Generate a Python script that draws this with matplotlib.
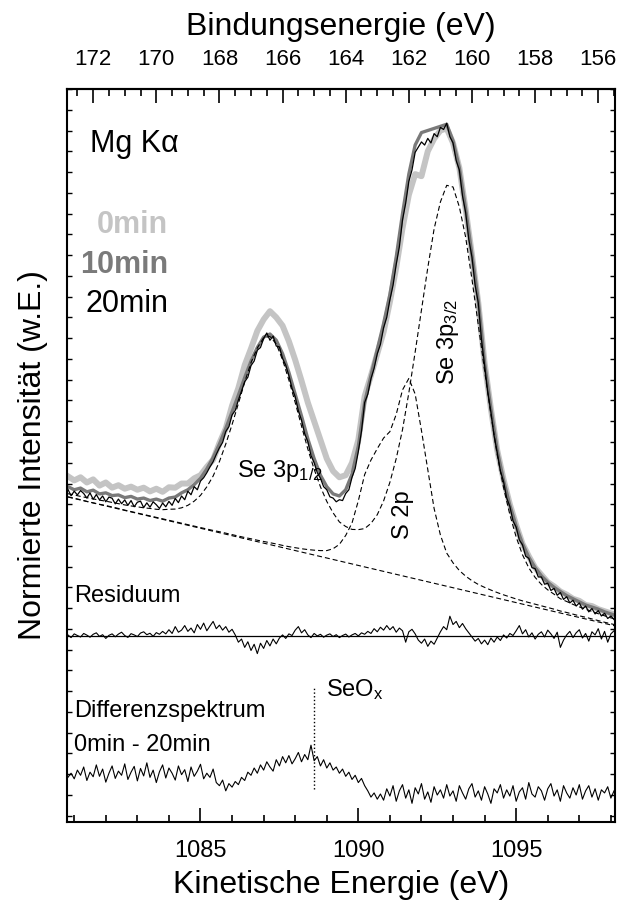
import numpy as np
import matplotlib
matplotlib.use("Agg")
import matplotlib.pyplot as plt
from matplotlib.ticker import MultipleLocator, FixedLocator

plt.rcParams['font.family'] = ['Liberation Sans', 'DejaVu Sans']
plt.rcParams['mathtext.default'] = 'regular'

# Mg K alpha: binding energy = h_nu - kinetic energy
h_nu = 1253.6

# tick values
ke_ticks = [1085, 1090, 1095]
be_ticks = [172, 170, 168, 166, 164, 162, 160, 158, 156]

# kinetic energy grids (eV)
ke_fine = np.round(np.arange(1080.8, 1098.15, 0.1), 1)   # 174 points
ke_fit = np.round(np.arange(1080.8, 1098.25, 0.2), 1)    # 88 points

# measured spectrum after 20 min (black)
spec_20 = [
    15.72, 15.41, 15.63, 15.45, 15.66, 15.52, 15.30, 15.55, 15.24, 15.47,
    15.21, 15.40, 15.12, 15.35, 15.29, 15.02, 15.25, 15.03, 15.21, 14.95,
    15.18, 14.88, 15.10, 15.15, 14.84, 15.07, 14.86, 15.12, 14.98, 14.80,
    15.06, 14.88, 15.14, 14.95, 15.28, 15.08, 15.40, 15.22, 15.63, 15.46,
    15.85, 15.70, 16.12, 16.28, 16.52, 16.80, 17.05, 17.40, 17.72, 17.98,
    18.50, 18.74, 19.30, 19.52, 20.02, 20.45, 20.90, 21.12, 21.68, 21.90,
    22.42, 22.55, 22.98, 23.25, 22.90, 23.10, 22.62, 22.58, 22.02, 21.70,
    21.20, 20.58, 20.18, 19.50, 19.05, 18.40, 18.02, 17.35, 17.00, 16.52,
    16.25, 15.85, 15.70, 15.36, 15.30, 15.12, 15.22, 15.18, 15.52, 15.70,
    16.30, 16.72, 17.55, 18.52, 19.90, 20.30, 21.05, 21.55, 22.25, 22.70,
    23.50, 24.00, 24.85, 25.55, 26.55, 27.40, 28.70, 29.50, 30.55, 31.10,
    31.95, 32.20, 32.45, 32.30, 32.62, 32.40, 32.85, 32.70, 33.15, 33.05,
    33.35, 32.70, 32.40, 31.55, 31.10, 29.85, 29.05, 27.75, 26.90, 25.55,
    24.70, 22.95, 21.70, 20.40, 19.45, 18.30, 17.50, 16.60, 16.10, 15.30,
    14.90, 14.20, 13.90, 13.28, 13.05, 12.50, 12.40, 11.95, 11.90, 11.50,
    11.50, 11.15, 11.20, 10.85, 10.95, 10.62, 10.75, 10.42, 10.55, 10.25,
    10.38, 10.10, 10.25, 9.95, 10.10, 9.82, 9.98, 9.72, 9.88, 9.62,
    9.75, 9.50, 9.62, 9.45,
]

# spectrum at 0 min (light grey) and 10 min (grey)
spec_0 = [
    16.35, 16.15, 16.30, 16.05, 16.20, 15.90, 16.05, 15.80, 15.92, 15.75,
    15.85, 15.70, 15.80, 15.62, 15.75, 15.60, 15.82, 15.80, 16.00, 16.00,
    16.25, 16.40, 16.80, 17.15, 17.95, 18.65, 19.75, 20.60, 21.70, 22.50,
    23.35, 23.90, 24.30, 24.00, 23.60, 22.85, 21.95, 20.95, 19.90, 19.00,
    18.10, 17.20, 16.60, 16.30, 16.40, 17.00, 18.10, 20.20, 21.20, 22.25,
    23.30, 24.75, 26.40, 28.30, 29.90, 30.90, 30.80, 32.00, 32.60, 33.00,
    33.10, 32.40, 31.20, 29.20, 27.00, 24.70, 21.80, 19.60, 17.60, 16.20,
    15.00, 14.00, 13.10, 12.50, 11.95, 11.60, 11.25, 11.05, 10.80, 10.65,
    10.45, 10.35, 10.15, 10.10, 9.95, 9.85, 9.75, 9.65,
]
spec_10 = [
    15.85, 15.70, 15.78, 15.60, 15.68, 15.50, 15.55, 15.42, 15.45, 15.32,
    15.38, 15.25, 15.30, 15.18, 15.25, 15.15, 15.30, 15.35, 15.55, 15.70,
    15.95, 16.25, 16.70, 17.25, 17.90, 18.65, 19.45, 20.25, 21.10, 21.90,
    22.55, 23.05, 23.20, 22.90, 22.25, 21.35, 20.30, 19.25, 18.15, 17.20,
    16.40, 15.85, 15.50, 15.40, 15.70, 16.45, 17.80, 19.90, 21.20, 22.45,
    23.70, 25.10, 26.90, 29.00, 30.90, 32.30, 32.90, 33.00, 33.10, 33.20,
    33.30, 32.50, 31.20, 29.20, 27.00, 24.80, 21.80, 19.60, 17.60, 16.15,
    14.95, 13.95, 13.10, 12.45, 11.95, 11.55, 11.25, 11.00, 10.80, 10.60,
    10.45, 10.30, 10.15, 10.05, 9.95, 9.82, 9.72, 9.62,
]

# fit: background, Se 3p doublet and S 2p (each on top of background)
bg_ke = [1080.8, 1098.2]
bg_val = [15.35, 9.12]
fit_se = [
    15.51, 15.45, 15.38, 15.32, 15.26, 15.20, 15.15, 15.09, 15.03, 14.97,
    14.92, 14.88, 14.83, 14.80, 14.76, 14.74, 14.76, 14.77, 14.83, 14.95,
    15.15, 15.43, 15.84, 16.36, 17.06, 17.90, 18.84, 19.85, 20.88, 21.82,
    22.53, 23.02, 23.08, 22.72, 21.96, 20.98, 19.90, 18.77, 17.66, 16.69,
    15.84, 15.14, 14.59, 14.15, 13.93, 13.79, 13.78, 13.83, 14.08, 14.50,
    15.16, 16.06, 17.20, 18.60, 20.37, 22.33, 24.36, 26.39, 28.26, 29.56,
    30.36, 30.28, 29.32, 27.86, 25.83, 23.63, 21.44, 19.32, 17.39, 15.81,
    14.50, 13.42, 12.57, 11.94, 11.48, 11.14, 10.88, 10.67, 10.45, 10.32,
    10.18, 10.06, 9.95, 9.84, 9.73, 9.63, 9.53, 9.45,
]
fit_s = [
    15.36, 15.29, 15.22, 15.14, 15.07, 15.00, 14.94, 14.87, 14.80, 14.72,
    14.65, 14.58, 14.51, 14.44, 14.37, 14.30, 14.23, 14.16, 14.09, 14.02,
    13.95, 13.88, 13.81, 13.74, 13.68, 13.61, 13.54, 13.47, 13.40, 13.34,
    13.27, 13.21, 13.15, 13.09, 13.02, 12.96, 12.91, 12.86, 12.82, 12.79,
    12.77, 12.77, 12.86, 13.07, 13.50, 14.10, 15.17, 16.43, 17.13, 17.68,
    18.19, 18.50, 19.33, 20.51, 21.06, 20.31, 18.55, 16.67, 14.80, 13.52,
    12.65, 12.18, 11.81, 11.54, 11.32, 11.14, 11.00, 10.87, 10.75, 10.64,
    10.54, 10.44, 10.35, 10.27, 10.19, 10.11, 10.03, 9.95, 9.86, 9.79,
    9.71, 9.63, 9.56, 9.48, 9.40, 9.32, 9.25, 9.17,
]

# residual (data - fit), plotted around its zero line
resid_zero = 8.66
resid = [
    0.05, -0.08, 0.10, 0.02, -0.05, 0.12, 0.04, -0.06, 0.08, 0.15,
    -0.02, 0.06, -0.12, 0.03, 0.10, -0.04, 0.09, 0.18, 0.02, -0.07,
    0.11, 0.05, -0.03, 0.14, 0.20, 0.06, 0.13, -0.02, 0.16, 0.08,
    0.22, 0.10, 0.30, 0.12, 0.45, 0.18, 0.28, 0.50, 0.22, 0.38,
    0.15, 0.55, 0.32, 0.62, 0.25, 0.48, 0.70, 0.35, 0.52, 0.28,
    0.45, 0.18, 0.32, 0.05, -0.30, -0.15, -0.55, -0.28, -0.70, -0.40,
    -0.85, -0.35, -0.60, -0.22, -0.48, -0.15, -0.38, -0.10, 0.05, -0.12,
    0.10, 0.02, 0.28, 0.45, 0.15, 0.30, 0.05, -0.08, 0.12, 0.00,
    0.08, -0.06, 0.04, 0.10, -0.03, 0.06, -0.08, 0.02, 0.09, -0.05,
    0.05, 0.12, 0.00, 0.15, 0.08, 0.22, 0.12, 0.35, 0.20, 0.42,
    0.28, 0.50, 0.30, 0.45, 0.18, 0.38, 0.25, -0.30, 0.20, 0.32,
    0.10, -0.20, -0.35, -0.15, -0.50, -0.25, -0.40, -0.10, 0.20, 0.45,
    0.30, 0.95, 0.55, 0.70, 0.40, 0.60, 0.35, 0.15, -0.05, -0.25,
    -0.12, -0.38, -0.20, -0.42, -0.10, -0.30, -0.05, -0.22, 0.05, -0.10,
    0.12, 0.02, 0.25, 0.50, 0.10, 0.30, -0.05, 0.15, -0.15, 0.08,
    0.20, -0.05, 0.28, 0.10, -0.12, 0.18, -0.55, -0.20, 0.05, 0.22,
    -0.08, 0.15, 0.30, -0.10, 0.12, -0.25, 0.20, 0.05, 0.35, -0.15,
    0.22, -0.30, 0.10, 0.25,
]

# difference spectrum 0 min - 20 min
diff = [
    1.85, 2.05, 1.78, 2.20, 1.95, 2.35, 1.70, 2.10, 1.88, 2.45,
    1.90, 2.25, 1.62, 2.05, 2.40, 1.80, 2.15, 1.95, 2.50, 1.75,
    2.10, 2.38, 1.68, 2.28, 1.92, 2.55, 1.85, 2.20, 1.60, 2.12,
    2.45, 1.82, 2.30, 2.05, 1.72, 2.40, 1.98, 2.22, 1.65, 2.35,
    1.90, 2.15, 2.48, 1.78, 2.05, 1.85, 2.25, 1.60, 1.45, 1.72,
    1.20, 1.55, 1.38, 1.65, 1.50, 1.85, 1.70, 2.10, 1.95, 2.30,
    2.05, 2.45, 2.20, 2.60, 2.35, 2.15, 2.70, 2.40, 2.85, 2.55,
    2.90, 2.50, 2.75, 3.05, 2.60, 2.95, 2.70, 3.40, 2.65, 2.85,
    2.40, 2.70, 2.30, 2.55, 2.20, 2.35, 2.05, 2.25, 1.90, 2.10,
    1.75, 1.95, 1.60, 1.80, 1.45, 1.20, 0.90, 1.10, 0.80, 1.05,
    0.75, 1.30, 0.95, 1.45, 0.70, 1.20, 1.50, 0.85, 1.25, 0.60,
    1.35, 1.05, 1.55, 0.80, 1.15, 0.65, 1.40, 1.00, 1.25, 0.85,
    1.50, 0.95, 1.20, 0.70, 1.45, 1.10, 0.80, 1.30, 1.55, 0.90,
    1.20, 0.75, 1.40, 1.05, 0.60, 1.30, 1.10, 1.50, 0.85, 1.25,
    0.95, 1.45, 0.70, 1.15, 1.35, 0.80, 1.60, 1.05, 0.90, 1.40,
    1.20, 0.75, 1.30, 1.55, 0.95, 1.25, 0.70, 1.45, 1.10, 0.85,
    1.35, 1.00, 1.50, 0.80, 1.20, 1.45, 0.90, 1.30, 0.75, 1.25,
    1.10, 1.40, 0.85, 1.20,
]

# SeOx marker
seox_ke = 1088.58
seox_span = [1.29, 6.2]

fig = plt.figure(figsize=(6.19, 9.06), dpi=100)
ax = fig.add_axes([0.1087, 0.0927, 0.8848, 0.8091])

ax.plot(ke_fit, spec_0, color='#c4c4c4', lw=4.3, solid_joinstyle='round')
ax.plot(ke_fit, spec_10, color='#7a7a7a', lw=2.4, solid_joinstyle='round')
ax.plot(ke_fine, spec_20, color='black', lw=0.9)

dash = (0, (4.5, 2.7))
ax.plot(bg_ke, bg_val, color='black', lw=0.8, ls=dash)
ax.plot(ke_fit, fit_se, color='black', lw=0.8, ls=dash)
ax.plot(ke_fit, fit_s, color='black', lw=0.8, ls=dash)

ax.axhline(resid_zero, color='black', lw=0.9)
ax.plot(ke_fine, np.array(resid) + resid_zero, color='black', lw=0.8)
ax.plot(ke_fine, diff, color='black', lw=0.8)
ax.plot([seox_ke, seox_ke], seox_span, color='black', lw=1.0, ls=':')

ax.set_xlim(1080.78, 1098.13)
ax.set_ylim(-0.3, 35.0)

# annotations
ax.text(1081.5, 31.97, 'Mg K\u03b1', fontsize=22)
ax.text(1083.98, 28.07, '0min', fontsize=22, fontweight='bold', color='#c4c4c4', ha='right')
ax.text(1083.98, 26.15, '10min', fontsize=22, fontweight='bold', color='#7a7a7a', ha='right')
ax.text(1083.98, 24.27, '20min', fontsize=22, ha='right')
ax.text(1086.15, 16.3, r'Se 3p$_{1/2}$', fontsize=17)
ax.text(1092.84, 22.82, r'Se 3p$_{3/2}$', fontsize=17, rotation=90, ha='center', va='center')
ax.text(1091.4, 14.49, 'S 2p', fontsize=17, rotation=90, ha='center', va='center')
ax.text(1080.99, 10.30, 'Residuum', fontsize=17)
ax.text(1080.99, 4.76, 'Differenzspektrum', fontsize=17)
ax.text(1080.99, 3.12, '0min - 20min', fontsize=17)
ax.text(1088.99, 5.77, r'SeO$_x$', fontsize=17)

ax.set_xlabel('Kinetische Energie (eV)', fontsize=23, labelpad=6)
ax.set_ylabel('Normierte Intensit\u00e4t (w.E.)', fontsize=23, labelpad=14)

ax.xaxis.set_major_locator(FixedLocator(ke_ticks))
ax.xaxis.set_minor_locator(MultipleLocator(1))
ax.yaxis.set_major_locator(MultipleLocator(1))
ax.tick_params(axis='x', which='both', direction='in', top=False, labelsize=17, pad=13)
ax.tick_params(axis='x', which='major', length=10, width=1.2)
ax.tick_params(axis='x', which='minor', length=5, width=1.2)
ax.tick_params(axis='y', which='both', direction='in', left=True, right=True,
               labelleft=False, length=3.5, width=1.0)
for sp in ax.spines.values():
    sp.set_linewidth(1.5)

secax = ax.secondary_xaxis('top', functions=(lambda k: h_nu - k, lambda b: h_nu - b))
secax.xaxis.set_major_locator(FixedLocator(be_ticks))
secax.xaxis.set_minor_locator(MultipleLocator(0.5))
secax.tick_params(which='both', direction='in', labelsize=16, pad=14, width=1.2)
secax.tick_params(which='major', length=10)
secax.tick_params(which='minor', length=5)
secax.spines['top'].set_linewidth(1.5)
secax.set_xlabel('Bindungsenergie (eV)', fontsize=23, labelpad=10)

fig.savefig('out.png', dpi=100)
